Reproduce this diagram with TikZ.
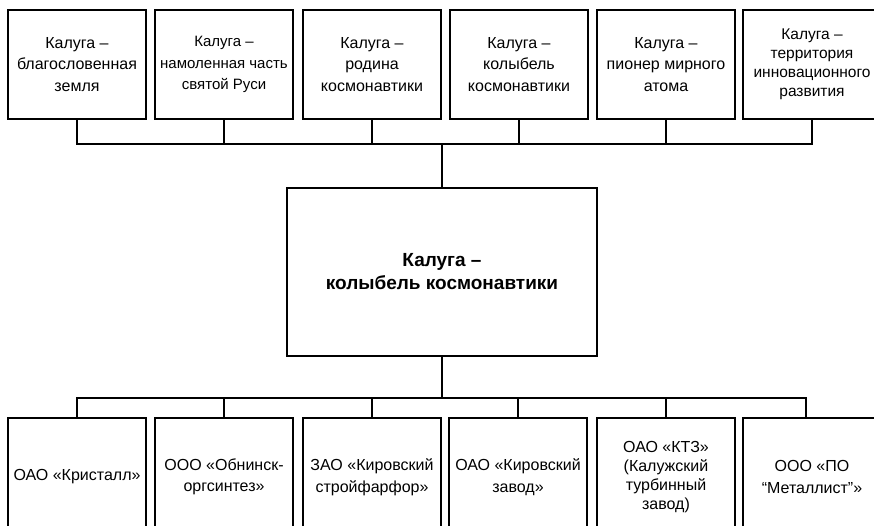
\documentclass[tikz,border=0pt]{standalone}
\usepackage{fontspec}
\setmainfont{Liberation Sans}
\begin{document}
\begin{tikzpicture}[x=1pt,y=-1pt,
  box/.style={draw,line width=1.5pt,minimum width=138pt,inner sep=0pt,align=center,font=\fontsize{16}{21.5}\selectfont},
  tight/.style={font=\fontsize{15.5}{19}\selectfont},
  topbox/.style={box,minimum height=109pt},
  lowbox/.style={box,minimum height=118pt},
  link/.style={line width=1.5pt}]
\useasboundingbox (0,0) rectangle (874,525);
\clip (0,0) rectangle (874,525);
% upper row
\node[topbox] (t1) at (77,64.5) {Калуга –\\благословенная\\земля};
\node[topbox,font=\fontsize{15}{21.5}\selectfont] (t2) at (224,64.5) {Калуга –\\намоленная часть\\святой Руси};
\node[topbox] (t3) at (372,64.5) {Калуга –\\родина\\космонавтики};
\node[topbox] (t4) at (519,64.5) {Калуга –\\колыбель\\космонавтики};
\node[topbox] (t5) at (666,64.5) {Калуга –\\пионер мирного\\атома};
\node[topbox,tight] (t6) at (812,64.5) {Калуга –\\территория\\инновационного\\развития};
% centre
\node[box,minimum width=310pt,minimum height=168pt,font=\fontsize{19}{23}\selectfont\bfseries] (core) at (442,272) {Калуга –\\колыбель космонавтики};
% lower row
\node[lowbox] (b1) at (77,477) {ОАО «Кристалл»};
\node[lowbox] (b2) at (224,477) {ООО «Обнинск-\\оргсинтез»};
\node[lowbox] (b3) at (372,477) {ЗАО «Кировский\\стройфарфор»};
\node[lowbox] (b4) at (518,477) {ОАО «Кировский\\завод»};
\node[lowbox,font=\fontsize{16}{19}\selectfont] (b5) at (666,477) {ОАО «КТЗ»\\(Калужский\\турбинный\\завод)};
\node[lowbox] (b6) at (812,477) {ООО «ПО\\“Металлист”»};
% buses
\coordinate (tbus) at (442,144);
\coordinate (bbus) at (442,398);
\draw[link] (t1.south) |- (tbus) -| (t6.south);
\foreach \n in {2,...,5}
  \draw[link] (t\n.south) -- (t\n.south |- tbus);
\draw[link] (tbus) -- (core.north);
\draw[link] (core.south) -- (bbus);
\draw[link] (b1.north) |- (bbus) -| ([xshift=-6pt]b6.north);
\foreach \n in {2,...,5}
  \draw[link] (b\n.north) -- (b\n.north |- bbus);
\end{tikzpicture}
\end{document}
